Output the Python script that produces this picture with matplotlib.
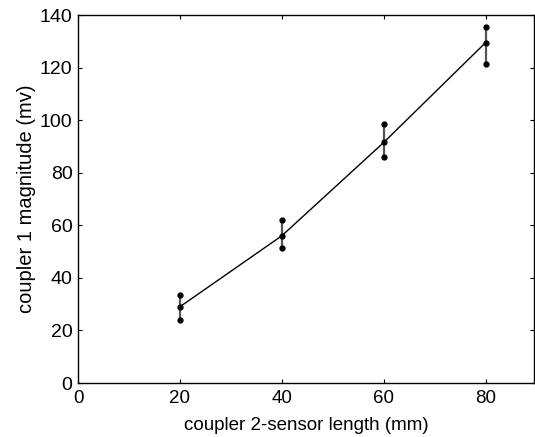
import matplotlib
matplotlib.use("Agg")
import matplotlib.pyplot as plt
import numpy as np

plt.rcParams['font.family'] = ['Liberation Sans', 'DejaVu Sans']

length_mm = [20, 40, 60, 80]
magnitude_mean = [29, 56, 91.5, 129.5]
magnitude_upper = [33.5, 62, 98.5, 135.5]
magnitude_lower = [24, 51.5, 86, 121.5]
xticks = [0, 20, 40, 60, 80]
yticks = [0, 20, 40, 60, 80, 100, 120, 140]

fig = plt.figure(figsize=(5.35, 4.37), dpi=100)
ax = fig.add_axes([78/535, (437-383)/437, (534-78)/535, (383-15)/437])

x = np.array(length_mm)
ax.vlines(x, magnitude_lower, magnitude_upper, color='#555555', lw=1.6, zorder=2)
ax.plot(x, magnitude_mean, color='black', lw=1.0, zorder=3)
ax.plot(x, magnitude_mean, 'o', color='black', ms=3.5, zorder=4)
ax.plot(x, magnitude_upper, 'o', color='black', ms=3.5, zorder=4)
ax.plot(x, magnitude_lower, 'o', color='black', ms=3.5, zorder=4)

ax.set_xlim(0, 89.5)
ax.set_ylim(0, 140)
ax.set_xticks(xticks)
ax.set_yticks(yticks)
ax.tick_params(direction='in', top=True, right=True, length=3, width=0.8)
ax.tick_params(axis='x', labelsize=13.5, pad=5)
ax.tick_params(axis='y', labelsize=14, pad=4)
for s in ax.spines.values():
    s.set_linewidth(1.0)
ax.set_xlabel('coupler 2-sensor length (mm)', fontsize=13.5, labelpad=7)
ax.set_ylabel('coupler 1 magnitude (mv)', fontsize=14.5, labelpad=3)

fig.savefig('out.png', dpi=100)
